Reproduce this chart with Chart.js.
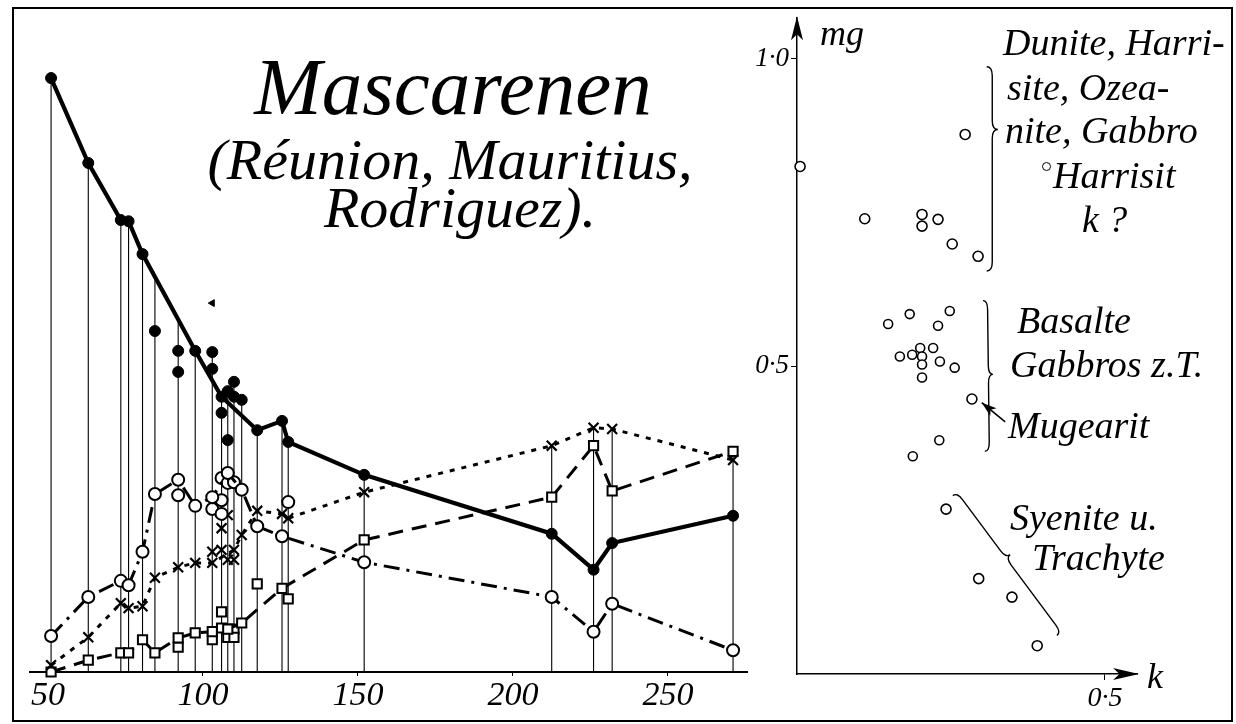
<!DOCTYPE html>
<html><head><meta charset="utf-8">
<script src="https://cdn.jsdelivr.net/npm/chart.js@4.4.0/dist/chart.umd.min.js"></script>
<style>
html,body{margin:0;padding:0;background:#fff;}
body{width:1236px;height:724px;position:relative;overflow:hidden;font-family:'Liberation Serif',serif;font-style:italic;color:#000;}
#frame{position:absolute;left:12px;top:7px;width:1221px;height:715px;border:2px solid #000;box-sizing:border-box;}
#left{position:absolute;left:0;top:0;}
#right{position:absolute;left:740px;top:0;}
.t{position:absolute;white-space:nowrap;line-height:1;}
.title{position:absolute;left:150px;width:600px;text-align:center;white-space:nowrap;line-height:1;}
.dot{display:inline-block;width:7px;height:7px;border:1.5px solid #000;border-radius:50%;vertical-align:top;margin-top:6px;margin-right:2px;}
</style></head><body>
<div id="frame"></div>
<canvas id="left" width="760" height="724"></canvas>
<canvas id="right" width="496" height="724"></canvas>

<div class="title" style="top:47px;font-size:81px;left:153px;">Mascarenen</div>
<div class="title" style="top:131px;font-size:58px;">(Réunion, Mauritius,</div>
<div class="title" style="top:179px;font-size:58px;left:160px;">Rodriguez).</div>

<div class="t" style="left:820px;top:15px;font-size:36px;">mg</div>
<div class="t" style="left:1003px;top:23px;font-size:38px;">Dunite, Harri-</div>
<div class="t" style="left:1007px;top:68px;font-size:38px;">site, Ozea-</div>
<div class="t" style="left:1005px;top:111px;font-size:38px;">nite, Gabbro</div>
<div class="t" style="left:1042px;top:156px;font-size:38px;"><span class="dot"></span>Harrisit</div>
<div class="t" style="left:1082px;top:200px;font-size:38px;">k ?</div>
<div class="t" style="left:1017px;top:301px;font-size:38px;">Basalte</div>
<div class="t" style="left:1010px;top:345px;font-size:38px;">Gabbros z.T.</div>
<div class="t" style="left:1008px;top:406px;font-size:38px;">Mugearit</div>
<div class="t" style="left:1010px;top:498px;font-size:38px;">Syenite u.</div>
<div class="t" style="left:1032px;top:538px;font-size:38px;">Trachyte</div>
<div class="t" style="left:1147px;top:658px;font-size:36px;">k</div>

<script>
// ---------- Left panel: Niggli values vs si ----------
const siLines = [51, 63, 73.5, 76, 80.5, 84.5, 92, 97.5, 103, 106, 108, 110, 112.5, 117.5, 125.5, 127.5, 152, 212.5, 226, 232, 271];
const siTicks = [50, 100, 150, 200, 250];

const fmTrend = [[51,95.8],[63,82.1],[73.5,72.9],[76,72.7],[80.5,67.4],[97.5,51.8],[106,44.4],[117.5,39.0],[125.5,40.5],[127.5,37.1],[152,31.8],[212.5,22.3],[226,16.5],[232,20.8],[271,25.2]];
const fmSingle = [[84.5,55.0],[92,51.8],[92,48.4],[103,51.6],[103,48.9],[106,41.8],[108,45.3],[108,37.4],[110,46.8],[110,44.4],[112.5,43.9]];
const fmDoubtful = [[103,59.5]];

const cTrend = [[51,5.8],[63,12.1],[73.5,14.7],[76,14.0],[80.5,19.4],[84.5,28.7],[92,31.0],[97.5,26.8],[103,28.2],[108,32.1],[112.5,29.4],[117.5,23.5],[125.5,21.9],[152,17.7],[212.5,12.1],[226,6.5],[232,11.0],[271,3.5]];
const cSingle = [[92,28.5],[103,26.3],[106,31.3],[108,30.5],[110,30.6],[106,27.7],[106,25.5],[127.5,27.4]];

const alkTrend = [[51,1.1],[63,5.6],[73.5,11.1],[76,10.3],[80.5,10.6],[84.5,15.2],[92,16.9],[97.5,17.6],[103,17.6],[110,19.7],[112.5,22.1],[117.5,26.0],[125.5,25.5],[127.5,24.8],[152,29.0],[212.5,36.5],[226,39.4],[232,39.2],[271,34.2]];
const alkSingle = [[103,19.4],[106,23.2],[108,25.3],[106,19.7],[108,18.1],[110,18.1]];

const alTrend = [[51,0],[63,1.9],[73.5,3.1],[76,3.1],[80.5,5.2],[84.5,3.1],[92,5.5],[97.5,6.3],[103,6.5],[108,6.9],[112.5,7.9],[125.5,13.5],[152,21.3],[212.5,28.2],[226,36.5],[232,29.2],[271,35.6]];
const alSingle = [[92,4.0],[103,5.2],[106,9.7],[106,7.1],[110,6.9],[108,5.6],[110,5.6],[117.5,14.2],[127.5,11.8]];

// ---------- Right panel: mg vs k ----------
const kDunite  = [0.273,0.005,0.110,0.203,0.203,0.229,0.252,0.294];
const mgDunite = [0.877,0.825,0.740,0.747,0.728,0.739,0.699,0.679];
const kBasalt  = [0.148,0.183,0.248,0.229,0.200,0.167,0.187,0.203,0.203,0.221,0.232,0.256,0.203,0.231,0.188];
const mgBasalt = [0.569,0.585,0.590,0.566,0.530,0.516,0.519,0.516,0.503,0.530,0.508,0.498,0.482,0.380,0.354];
const kMugearit  = [0.284];
const mgMugearit = [0.447];
const kSyenite  = [0.242,0.295,0.349,0.390];
const mgSyenite = [0.268,0.155,0.125,0.046];
const mgTicks = [0.5, 1.0];
const kTicks = [0.5];

const pts = arr => arr.map(p => ({x:p[0], y:p[1]}));
const zip = (xs, ys) => xs.map((v,i) => ({x:v, y:ys[i]}));

function trendAt(s){
  for(let i=0;i<fmTrend.length-1;i++){
    const a=fmTrend[i], b=fmTrend[i+1];
    if(s>=a[0] && s<=b[0]) return a[1]+(b[1]-a[1])*(s-a[0])/(b[0]-a[0]);
  }
  return 0;
}
const allPts = [].concat(fmTrend,fmSingle,cTrend,cSingle,alkTrend,alkSingle,alTrend,alSingle);
const dropData = [];
siLines.forEach(s => {
  let top = trendAt(s);
  allPts.forEach(p => { if(Math.abs(p[0]-s)<0.01 && p[1]>top) top=p[1]; });
  dropData.push({x:s,y:0},{x:s,y:top},{x:s,y:null});
});

const fontIt = size => ({family:'Liberation Serif', style:'italic', size:size});

const openPt = {pointBackgroundColor:'#fff', pointBorderColor:'#000', pointBorderWidth:2};

new Chart(document.getElementById('left'), {
  type:'scatter',
  data:{datasets:[
    {data:dropData, showLine:true, spanGaps:false, borderColor:'#000', borderWidth:1.1, pointRadius:0, order:10, clip:false},
    {data:pts(alTrend), showLine:true, borderColor:'#000', borderWidth:3, borderDash:[15,9], pointStyle:'rect', pointRadius:6.5, ...openPt, order:5, clip:false},
    {data:pts(alSingle), showLine:false, pointStyle:'rect', pointRadius:6.5, ...openPt, order:5, clip:false},
    {data:pts(alkTrend), showLine:true, borderColor:'#000', borderWidth:3, borderDash:[5,7], pointStyle:'crossRot', pointRadius:7, pointBorderColor:'#000', pointBorderWidth:2.2, order:4, clip:false},
    {data:pts(alkSingle), showLine:false, pointStyle:'crossRot', pointRadius:7, pointBorderColor:'#000', pointBorderWidth:2.2, order:4, clip:false},
    {data:pts(cTrend), showLine:true, borderColor:'#000', borderWidth:3, borderDash:[16,7,3,7], pointStyle:'circle', pointRadius:6, ...openPt, order:3, clip:false},
    {data:pts(cSingle), showLine:false, pointStyle:'circle', pointRadius:6, ...openPt, order:3, clip:false},
    {data:pts(fmTrend), showLine:true, borderColor:'#000', borderWidth:4.2, pointStyle:'circle', pointRadius:5.5, pointBackgroundColor:'#000', pointBorderColor:'#000', pointBorderWidth:1, order:1, clip:false},
    {data:pts(fmSingle), showLine:false, pointStyle:'circle', pointRadius:5.5, pointBackgroundColor:'#000', pointBorderColor:'#000', pointBorderWidth:1, order:1, clip:false},
    {data:pts(fmDoubtful), showLine:false, pointStyle:'triangle', rotation:-90, pointRadius:4, pointBackgroundColor:'#000', pointBorderColor:'#000', pointBorderWidth:1, order:1, clip:false}
  ]},
  options:{
    responsive:false, animation:false,
    layout:{padding:{left:30,right:13,top:21,bottom:2}},
    plugins:{legend:{display:false}, tooltip:{enabled:false}},
    scales:{
      x:{type:'linear', min:44.2, max:275.5,
        afterBuildTicks: s => { s.ticks = siTicks.map(v => ({value:v})); },
        afterFit: s => { s.height = 50; },
        grid:{display:true, drawOnChartArea:false, drawTicks:true, tickLength:4, color:'#000'},
        border:{display:true, color:'#000', width:2},
        ticks:{color:'#000', font:fontIt(34), padding:0, maxRotation:0, autoSkip:false}},
      y:{display:false, min:0, max:105}
    }
  }
});

// braces & arrows (decorations), placed in k/mg space
const braces = [
  {a:[0.308,0.987], b:[0.308,0.655], tip:[0.326,0.885]},
  {a:[0.302,0.607], b:[0.305,0.362], tip:[0.318,0.487]},
  {a:[0.253,0.290], b:[0.422,0.0625], tip:[0.346,0.194]}
];
const mugArrow = {from:[0.338,0.410], to:[0.300,0.441]};

function drawBrace(ctx, A, B, C){
  const dx=B.x-A.x, dy=B.y-A.y, L=Math.hypot(dx,dy);
  const u={x:dx/L,y:dy/L};
  let n={x:-u.y,y:u.x};
  const s=(C.x-A.x)*u.x+(C.y-A.y)*u.y;
  let t=(C.x-A.x)*n.x+(C.y-A.y)*n.y;
  if(t<0){ n={x:-n.x,y:-n.y}; t=-t; }
  const P=(a,b)=>({x:A.x+u.x*a+n.x*b, y:A.y+u.y*a+n.y*b});
  const h=t/2, r=Math.min(9, s/3, (L-s)/3);
  ctx.beginPath();
  let p=P(0,0); ctx.moveTo(p.x,p.y);
  let c=P(0,h), e=P(r,h); ctx.quadraticCurveTo(c.x,c.y,e.x,e.y);
  e=P(s-r,h); ctx.lineTo(e.x,e.y);
  c=P(s,h); e=P(s,t); ctx.quadraticCurveTo(c.x,c.y,e.x,e.y);
  c=P(s,h); e=P(s+r,h); ctx.quadraticCurveTo(c.x,c.y,e.x,e.y);
  e=P(L-r,h); ctx.lineTo(e.x,e.y);
  c=P(L,h); e=P(L,0); ctx.quadraticCurveTo(c.x,c.y,e.x,e.y);
  ctx.stroke();
}
function arrowHead(ctx, tipX, tipY, ang, len, half){
  ctx.beginPath();
  ctx.moveTo(tipX, tipY);
  ctx.lineTo(tipX - len*Math.cos(ang) + half*Math.sin(ang), tipY - len*Math.sin(ang) - half*Math.cos(ang));
  ctx.lineTo(tipX - len*0.75*Math.cos(ang), tipY - len*0.75*Math.sin(ang));
  ctx.lineTo(tipX - len*Math.cos(ang) - half*Math.sin(ang), tipY - len*Math.sin(ang) + half*Math.cos(ang));
  ctx.closePath();
  ctx.fill();
}

const decoPlugin = {
  id:'deco',
  afterDraw(chart){
    const ctx=chart.ctx, xs=chart.scales.x, ys=chart.scales.y, area=chart.chartArea;
    const px = d => ({x:xs.getPixelForValue(d[0]), y:ys.getPixelForValue(d[1])});
    ctx.save();
    ctx.strokeStyle='#000'; ctx.fillStyle='#000'; ctx.lineWidth=1.4;
    const x0 = xs.getPixelForValue(0), y0 = ys.getPixelForValue(0);
    arrowHead(ctx, x0, area.top-2, -Math.PI/2, 24, 6);
    arrowHead(ctx, area.right+2, y0, 0, 26, 6);
    braces.forEach(b => drawBrace(ctx, px(b.a), px(b.b), px(b.tip)));
    const f=px(mugArrow.from), t=px(mugArrow.to);
    ctx.lineWidth=1.6;
    ctx.beginPath(); ctx.moveTo(f.x,f.y); ctx.lineTo(t.x,t.y); ctx.stroke();
    arrowHead(ctx, t.x, t.y, Math.atan2(t.y-f.y, t.x-f.x), 15, 5);
    ctx.restore();
  }
};

const ringPt = r => ({showLine:false, pointStyle:'circle', pointRadius:r, pointBackgroundColor:'#fff', pointBorderColor:'#000', pointBorderWidth:1.6, clip:false});

new Chart(document.getElementById('right'), {
  type:'scatter',
  data:{datasets:[
    {data:zip(kDunite,mgDunite), ...ringPt(5)},
    {data:zip(kBasalt,mgBasalt), ...ringPt(4.5)},
    {data:zip(kMugearit,mgMugearit), ...ringPt(5)},
    {data:zip(kSyenite,mgSyenite), ...ringPt(5)}
  ]},
  options:{
    responsive:false, animation:false,
    layout:{padding:{left:0,right:99,top:9,bottom:0}},
    plugins:{legend:{display:false}, tooltip:{enabled:false}},
    scales:{
      x:{type:'linear', min:0, max:0.552,
        afterBuildTicks: s => { s.ticks = kTicks.map(v => ({value:v})); },
        afterFit: s => { s.height = 50; },
        grid:{display:true, drawOnChartArea:false, tickLength:6, color:'#000'},
        border:{display:true, color:'#000', width:1.5},
        ticks:{color:'#000', font:fontIt(28), padding:2, maxRotation:0, autoSkip:false,
          callback: v => String(v.toFixed(1)).replace('.', '·')}},
      y:{type:'linear', min:0, max:1.066,
        afterBuildTicks: s => { s.ticks = mgTicks.map(v => ({value:v})); },
        afterFit: s => { s.width = 57; },
        grid:{display:true, drawOnChartArea:false, tickLength:6, color:'#000'},
        border:{display:true, color:'#000', width:1.5},
        ticks:{color:'#000', font:fontIt(27), padding:2, autoSkip:false,
          callback: v => String(v.toFixed(1)).replace('.', '·')}}
    }
  },
  plugins:[decoPlugin]
});
</script>
</body></html>
